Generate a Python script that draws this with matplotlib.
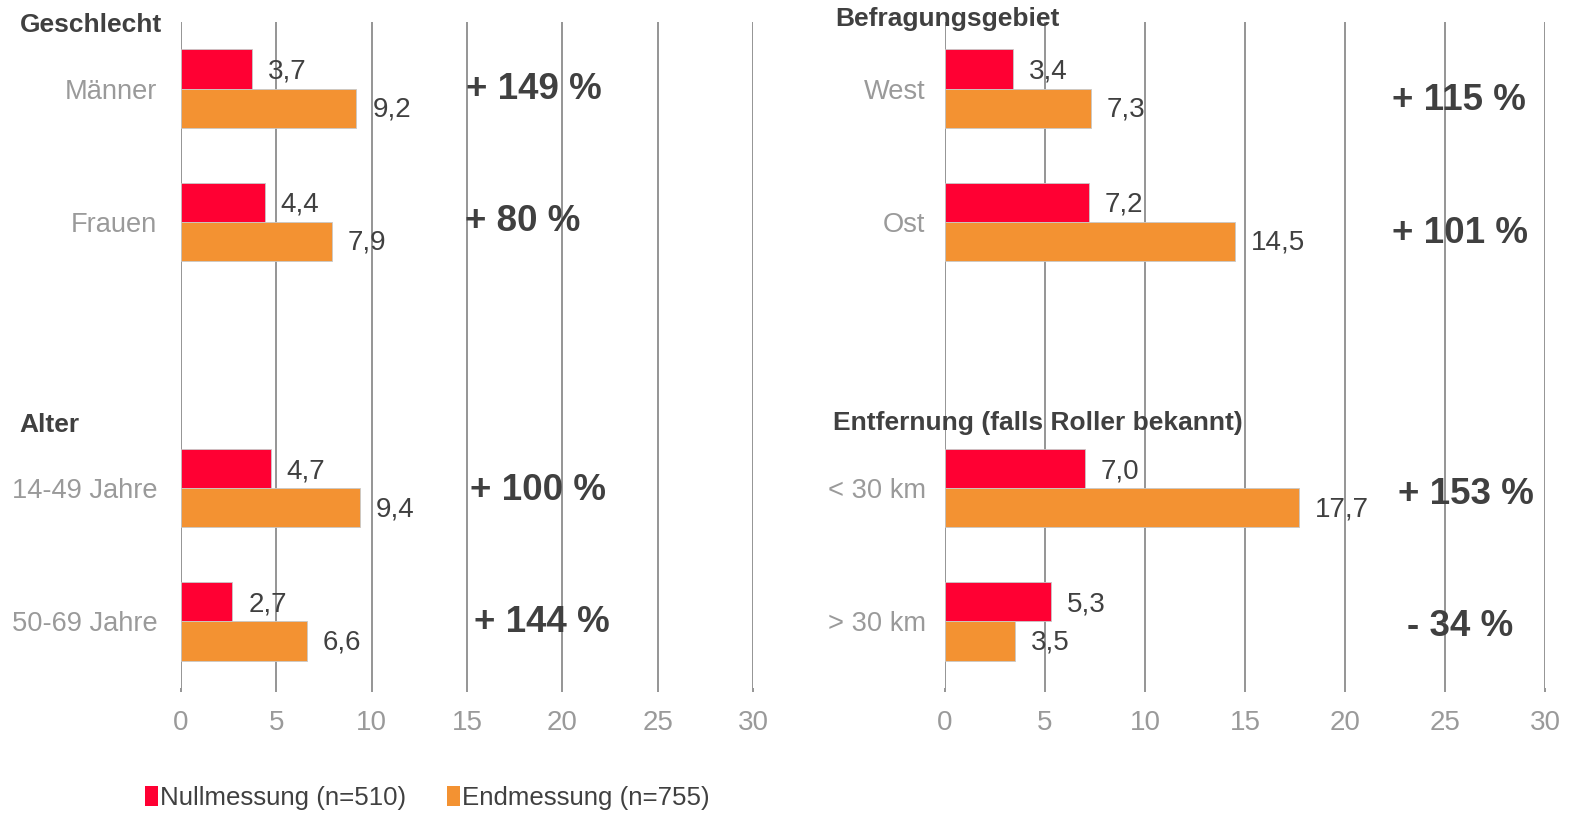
import matplotlib.pyplot as plt
from matplotlib.patches import Patch

plt.rcParams['font.family'] = ['Liberation Sans', 'DejaVu Sans']

# data
left_cats = ['Männer', 'Frauen', '14-49 Jahre', '50-69 Jahre']
left_null = [3.7, 4.4, 4.7, 2.7]
left_end = [9.2, 7.9, 9.4, 6.6]
left_pct = ['+ 149 %', '+ 80 %', '+ 100 %', '+ 144 %']

right_cats = ['West', 'Ost', '< 30 km', '> 30 km']
right_null = [3.4, 7.2, 7.0, 5.3]
right_end = [7.3, 14.5, 17.7, 3.5]
right_pct = ['+ 115 %', '+ 101 %', '+ 153 %', '- 34 %']

legend_labels = ['Nullmessung (n=510)', 'Endmessung (n=755)']

# layout
slots = [0, 1, 3, 4]
left_pct_x = [14.95, 14.9, 15.15, 15.35]
right_pct_x = [22.35, 22.35, 22.65, 23.1]
left_pct_dy = [0.01, 0.0, 0.02, 0.01]
right_pct_dy = [0.09, 0.09, 0.05, 0.04]

RED = '#FF0033'
ORANGE = '#F39232'
GRID = '#8c8c8c'
DARK = '#404040'
GREY = '#9a9a9a'

W, H = 1571, 814
fig = plt.figure(figsize=(W / 100, H / 100), dpi=100)
axL = fig.add_axes([181 / W, 1 - 688 / H, 572 / W, 666 / H])
axR = fig.add_axes([945 / W, 1 - 688 / H, 600 / W, 666 / H])

bh = 0.295


def fmt(v):
    return f'{v:.1f}'.replace('.', ',')


def draw(ax, cats, null, end, pct, pct_x, pct_dy, ypad):
    yn = [s - bh / 2 for s in slots]
    ye = [s + bh / 2 for s in slots]
    ax.barh(yn, null, height=bh, color=RED, edgecolor='#c8c8c8', linewidth=0.6, zorder=3)
    ax.barh(ye, end, height=bh, color=ORANGE, edgecolor='#c8c8c8', linewidth=0.6, zorder=3)
    for y, v in zip(yn, null):
        ax.annotate(fmt(v), xy=(v, y), xytext=(11.5, -2), textcoords='offset points',
                    va='center', ha='left', fontsize=20, color=DARK)
    for y, v in zip(ye, end):
        ax.annotate(fmt(v), xy=(v, y), xytext=(11.5, -1), textcoords='offset points',
                    va='center', ha='left', fontsize=20, color=DARK)
    for s, t, x, dy in zip(slots, pct, pct_x, pct_dy):
        ax.text(x, s + dy, t, ha='left', va='center', fontsize=26.5,
                fontweight='bold', color=DARK)
    ax.set_xlim(0, 30)
    ax.set_ylim(4.5, -0.5)
    ax.set_xticks(range(0, 31, 5))
    ax.set_yticks(slots)
    ax.set_yticklabels(cats)
    ax.grid(axis='x', color=GRID, linewidth=1.3)
    ax.set_axisbelow(True)
    for sp in ax.spines.values():
        sp.set_visible(False)
    ax.tick_params(axis='x', length=3, width=1.3, color=GRID, pad=13,
                   labelsize=20, labelcolor=GREY)
    ax.tick_params(axis='y', length=0, pad=ypad, labelsize=19.6, labelcolor=GREY)


draw(axL, left_cats, left_null, left_end, left_pct, left_pct_x, left_pct_dy, 17)
draw(axR, right_cats, right_null, right_end, right_pct, right_pct_x, right_pct_dy, 14)

# group headers
fig.text(20 / W, 1 - 25 / H, 'Geschlecht', fontsize=19, fontweight='bold', color=DARK, va='center')
fig.text(19 / W, 1 - 425 / H, 'Alter', fontsize=19, fontweight='bold', color=DARK, va='center')
fig.text(835 / W, 1 - 19 / H, 'Befragungsgebiet', fontsize=19, fontweight='bold', color=DARK, va='center')
fig.text(833 / W, 1 - 423 / H, 'Entfernung (falls Roller bekannt)', fontsize=19,
         fontweight='bold', color=DARK, va='center')

handles = [Patch(facecolor=RED, edgecolor='none'), Patch(facecolor=ORANGE, edgecolor='none')]
fig.legend(handles, legend_labels, loc='center left', bbox_to_anchor=(145 / W, 1 - 798 / H),
           ncol=2, frameon=False, fontsize=18.6, handlelength=0.5, handleheight=0.85,
           handletextpad=0.1, columnspacing=1.55, borderaxespad=0, borderpad=0,
           labelcolor=DARK)

fig.savefig('out.png', dpi=100)
